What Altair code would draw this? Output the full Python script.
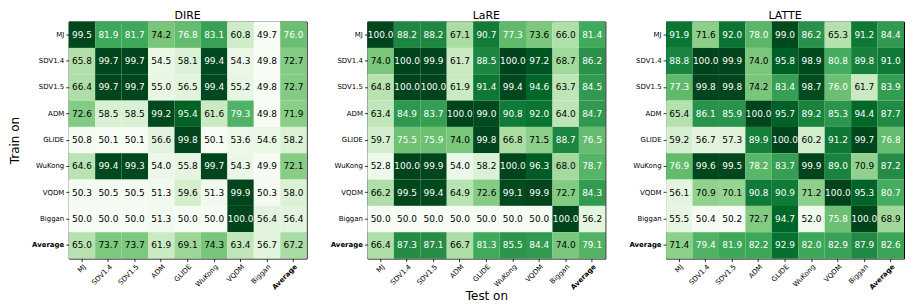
import altair as alt
import pandas as pd
import numpy as np

labels = ["MJ", "SDV1.4", "SDV1.5", "ADM", "GLIDE", "WuKong", "VQDM", "Biggan", "Average"]

dire = [
    [99.5, 81.9, 81.7, 74.2, 76.8, 83.1, 60.8, 49.7, 76.0],
    [65.8, 99.7, 99.7, 54.5, 58.1, 99.4, 54.3, 49.8, 72.7],
    [66.4, 99.7, 99.7, 55.0, 56.5, 99.4, 55.2, 49.8, 72.7],
    [72.6, 58.5, 58.5, 99.2, 95.4, 61.6, 79.3, 49.8, 71.9],
    [50.8, 50.1, 50.1, 56.6, 99.8, 50.1, 53.6, 54.6, 58.2],
    [64.6, 99.4, 99.3, 54.0, 55.8, 99.7, 54.3, 49.9, 72.1],
    [50.3, 50.5, 50.5, 51.3, 59.6, 51.3, 99.9, 50.3, 58.0],
    [50.0, 50.0, 50.0, 51.3, 50.0, 50.0, 100.0, 56.4, 56.4],
    [65.0, 73.7, 73.7, 61.9, 69.1, 74.3, 63.4, 56.7, 67.2],
]

lare = [
    [100.0, 88.2, 88.2, 67.1, 90.7, 77.3, 73.6, 66.0, 81.4],
    [74.0, 100.0, 99.9, 61.7, 88.5, 100.0, 97.2, 68.7, 86.2],
    [64.8, 100.0, 100.0, 61.9, 91.4, 99.4, 94.6, 63.7, 84.5],
    [63.4, 84.9, 83.7, 100.0, 99.0, 90.8, 92.0, 64.0, 84.7],
    [59.7, 75.5, 75.9, 74.0, 99.8, 66.8, 71.5, 88.7, 76.5],
    [52.8, 100.0, 99.9, 54.0, 58.2, 100.0, 96.3, 68.0, 78.7],
    [66.2, 99.5, 99.4, 64.9, 72.6, 99.1, 99.9, 72.7, 84.3],
    [50.0, 50.0, 50.0, 50.0, 50.0, 50.0, 50.0, 100.0, 56.2],
    [66.4, 87.3, 87.1, 66.7, 81.3, 85.5, 84.4, 74.0, 79.1],
]

latte = [
    [91.9, 71.6, 92.0, 78.0, 99.0, 86.2, 65.3, 91.2, 84.4],
    [88.8, 100.0, 99.9, 74.0, 95.8, 98.9, 80.8, 89.8, 91.0],
    [77.3, 99.8, 99.8, 74.2, 83.4, 98.7, 76.0, 61.7, 83.9],
    [65.4, 86.1, 85.9, 100.0, 95.7, 89.2, 85.3, 94.4, 87.7],
    [59.2, 56.7, 57.3, 89.9, 100.0, 60.2, 91.2, 99.7, 76.8],
    [76.9, 99.6, 99.5, 78.2, 83.7, 99.9, 89.0, 70.9, 87.2],
    [56.1, 70.9, 70.1, 90.8, 90.9, 71.2, 100.0, 95.3, 80.7],
    [55.5, 50.4, 50.2, 72.7, 94.7, 52.0, 75.8, 100.0, 68.9],
    [71.4, 79.4, 81.9, 82.2, 92.9, 82.0, 82.9, 87.9, 82.6],
]

panels = [("DIRE", dire), ("LaRE", lare), ("LATTE", latte)]

greens = ["#f7fcf5", "#e5f5e0", "#c7e9c0", "#a1d99b", "#74c476",
          "#41ab5d", "#238b45", "#006d2c", "#00441b"]

bold_cond = {"condition": {"test": "datum.value === 'Average'", "value": "bold"}, "value": "normal"}

W, H = 239, 238


def make_panel(i, title, mat):
    rows = []
    for r, tr in enumerate(labels):
        for c, te in enumerate(labels):
            rows.append({"train": tr, "test": te, "value": mat[r][c]})
    df = pd.DataFrame(rows)
    vmin, vmax = float(df["value"].min()), float(df["value"].max())
    mid = (vmin + vmax) / 2
    stops = list(np.linspace(vmin, vmax, len(greens)))

    x_axis = alt.Axis(
        title="Test on" if i == 1 else None,
        labelAngle=-45, labelAlign="right", labelBaseline="top",
        labelFontWeight=bold_cond, titlePadding=0, labelPadding=1,
    )
    y_axis = alt.Axis(
        title="Train on" if i == 0 else None,
        labelFontWeight=bold_cond, titlePadding=10, labelPadding=2,
    )
    base = alt.Chart(df).encode(
        x=alt.X("test:N", sort=labels, axis=x_axis, scale=alt.Scale(paddingInner=0, paddingOuter=0)),
        y=alt.Y("train:N", sort=labels, axis=y_axis, scale=alt.Scale(paddingInner=0, paddingOuter=0)),
    )
    rect = base.mark_rect().encode(
        color=alt.Color("value:Q", legend=None,
                        scale=alt.Scale(domain=stops, range=greens, interpolate="rgb")),
    )
    text = base.mark_text(fontSize=9, font="DejaVu Sans").encode(
        text=alt.Text("value:Q", format=".1f"),
        color=alt.condition(alt.datum.value > mid, alt.value("white"), alt.value("black")),
    )
    return (rect + text).properties(
        width=W, height=H,
        title=alt.TitleParams(title, fontSize=11, font="DejaVu Sans", fontWeight="normal", offset=1),
    )


chart = alt.hconcat(*[make_panel(i, t, m) for i, (t, m) in enumerate(panels)], spacing=22).properties(
    padding={"left": 0, "top": 0, "right": 0, "bottom": 0}
).configure_view(
    stroke="black", strokeWidth=1
).configure_axis(
    labelFont="DejaVu Sans", labelFontSize=7, labelColor="black",
    titleFont="DejaVu Sans", titleFontSize=12, titleFontWeight="normal", titleColor="black",
    tickColor="black", tickSize=3, tickWidth=0.8, domain=False,
    grid=False,
).configure_concat(spacing=22)

chart.save("out.html", embed_options={"renderer": "svg", "actions": False})
